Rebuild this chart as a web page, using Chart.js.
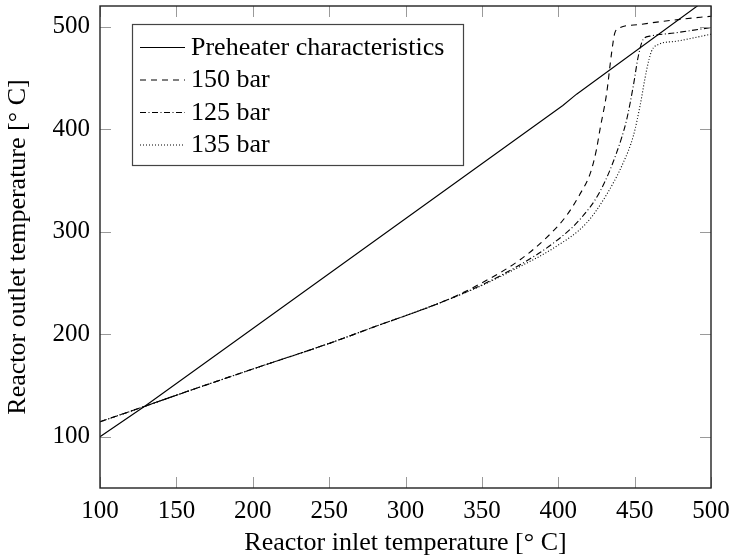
<!DOCTYPE html>
<html>
<head>
<meta charset="utf-8">
<script src="https://cdn.jsdelivr.net/npm/chart.js@4/dist/chart.umd.min.js"></script>
<style>
  html, body { margin: 0; padding: 0; background: #fff; }
  #wrap { width: 733px; height: 559px; }
</style>
</head>
<body>
<div id="wrap"><canvas id="chart" width="733" height="559"></canvas></div>
<script>
// Axis ticks
const xTicks = [100, 150, 200, 250, 300, 350, 400, 450, 500];
const yTicks = [100, 200, 300, 400, 500];

// Preheater characteristics
const preheatX = [100, 130, 403, 412, 491, 500];
const preheatY = [100, 130.5, 423, 434, 520, 529.5];

// 150 bar
const bar150X = [100, 130, 150, 200, 250, 283, 300, 325, 350, 375, 392, 405, 414, 421, 425, 427.3, 431.7, 434.9, 437.1, 440.4, 453.5, 479.7, 500];
const bar150Y = [114.6, 130, 140.5, 166, 191, 209, 218, 232, 250, 272.6, 293.7, 314.8, 336, 357, 380, 399.5, 435, 474, 494, 498.8, 502, 507, 510];

// 125 bar
const bar125X = [100, 130, 150, 200, 250, 283, 300, 325, 350, 375, 397, 414, 427.3, 438.2, 444.8, 449.1, 452.4, 455.6, 460, 477.5, 500];
const bar125Y = [114.6, 130, 140.5, 166, 191, 209, 218, 232, 248, 267.7, 289, 311.6, 339, 377, 409.3, 441.8, 471, 487.4, 490.6, 494, 499];

// 135 bar
const bar135X = [100, 130, 150, 200, 250, 283, 300, 325, 350, 375, 397, 418.5, 431.6, 442.5, 449.1, 453.5, 457.9, 461.1, 465.5, 477.5, 500];
const bar135Y = [114.6, 130, 140.5, 166, 191, 209, 218, 232, 247.5, 266, 284, 308.4, 336, 367, 393, 422.3, 458, 476, 482.5, 485.7, 492.5];

const FONT = '"Liberation Serif", "Times New Roman", serif';

function toPoints(xs, ys) {
    return xs.map((x, i) => ({ x: x, y: ys[i] }));
}

function lineSet(label, xs, ys, dash, smooth) {
    return {
        label: label,
        data: toPoints(xs, ys),
        borderColor: '#000',
        borderWidth: 1.1,
        borderDash: dash,
        pointRadius: 0,
        showLine: true,
        fill: false,
        tension: 0,
        cubicInterpolationMode: smooth ? 'monotone' : 'default'
    };
}

// frame, inner ticks and the boxed legend
const framePlugin = {
    id: 'frame',
    afterDatasetsDraw(chart) {
        const ctx = chart.ctx;
        const a = chart.chartArea;
        const xs = chart.scales.x, ys = chart.scales.y;
        ctx.save();

        // inner ticks
        ctx.strokeStyle = '#9a9a9a';
        ctx.lineWidth = 1;
        ctx.beginPath();
        xTicks.forEach(v => {
            const px = Math.round(xs.getPixelForValue(v)) + 0.5;
            ctx.moveTo(px, a.bottom); ctx.lineTo(px, a.bottom - 11);
            ctx.moveTo(px, a.top); ctx.lineTo(px, a.top + 11);
        });
        yTicks.forEach(v => {
            const py = Math.round(ys.getPixelForValue(v)) + 0.5;
            ctx.moveTo(a.left, py); ctx.lineTo(a.left + 11, py);
            ctx.moveTo(a.right, py); ctx.lineTo(a.right - 11, py);
        });
        ctx.stroke();

        // frame
        ctx.strokeStyle = '#222';
        ctx.lineWidth = 1.4;
        ctx.strokeRect(a.left, a.top, a.right - a.left, a.bottom - a.top);

        // legend box
        const lx = a.left + 32, ly = a.top + 18, lw = 331, lh = 141;
        ctx.fillStyle = '#fff';
        ctx.fillRect(lx, ly, lw, lh);
        ctx.strokeStyle = '#444';
        ctx.lineWidth = 1.2;
        ctx.strokeRect(lx + 0.5, ly + 0.5, lw, lh);

        ctx.font = '26px ' + FONT;
        ctx.textBaseline = 'middle';
        ctx.fillStyle = '#000';
        chart.data.datasets.forEach((ds, i) => {
            const cy = ly + 23 + i * 32.5;
            ctx.beginPath();
            ctx.setLineDash(ds.borderDash || []);
            ctx.strokeStyle = '#000';
            ctx.lineWidth = 1.1;
            ctx.moveTo(lx + 8, cy + 0.5);
            ctx.lineTo(lx + 53, cy + 0.5);
            ctx.stroke();
            ctx.setLineDash([]);
            ctx.fillText(ds.label, lx + 59, cy + 1);
        });
        ctx.restore();
    }
};

new Chart(document.getElementById('chart'), {
    type: 'scatter',
    data: {
        datasets: [
            lineSet('Preheater characteristics', preheatX, preheatY, [], false),
            lineSet('150 bar', bar150X, bar150Y, [6, 5], true),
            lineSet('125 bar', bar125X, bar125Y, [6, 2.5, 1, 2.5], true),
            lineSet('135 bar', bar135X, bar135Y, [1, 2], true)
        ]
    },
    options: {
        responsive: false,
        animation: false,
        layout: { padding: { top: 6, right: 22, left: 0, bottom: 0 } },
        plugins: {
            legend: { display: false },
            tooltip: { enabled: false }
        },
        scales: {
            x: {
                type: 'linear',
                min: 100,
                max: 500,
                afterBuildTicks: s => { s.ticks = xTicks.map(v => ({ value: v })); },
                afterFit: s => { s.height = 71; s.paddingLeft = 0; s.paddingRight = 0; },
                grid: { display: false, drawTicks: false, tickLength: 0 },
                border: { display: false },
                ticks: { color: '#000', font: { family: FONT, size: 25 }, padding: 8, maxRotation: 0 },
                title: {
                    display: true,
                    text: 'Reactor inlet temperature [° C]',
                    color: '#000',
                    font: { family: FONT, size: 26 },
                    padding: { top: 0, bottom: 0 }
                }
            },
            y: {
                type: 'linear',
                min: 50,
                max: 520,
                afterBuildTicks: s => { s.ticks = yTicks.map(v => ({ value: v })); },
                afterFit: s => { s.width = 100; s.paddingTop = 0; s.paddingBottom = 0; },
                grid: { display: false, drawTicks: false, tickLength: 0 },
                border: { display: false },
                ticks: { color: '#000', font: { family: FONT, size: 25 }, padding: 10 },
                title: {
                    display: true,
                    text: 'Reactor outlet temperature [° C]',
                    color: '#000',
                    font: { family: FONT, size: 26 },
                    padding: { top: 3, bottom: 0 }
                }
            }
        }
    },
    plugins: [framePlugin]
});
</script>
</body>
</html>
